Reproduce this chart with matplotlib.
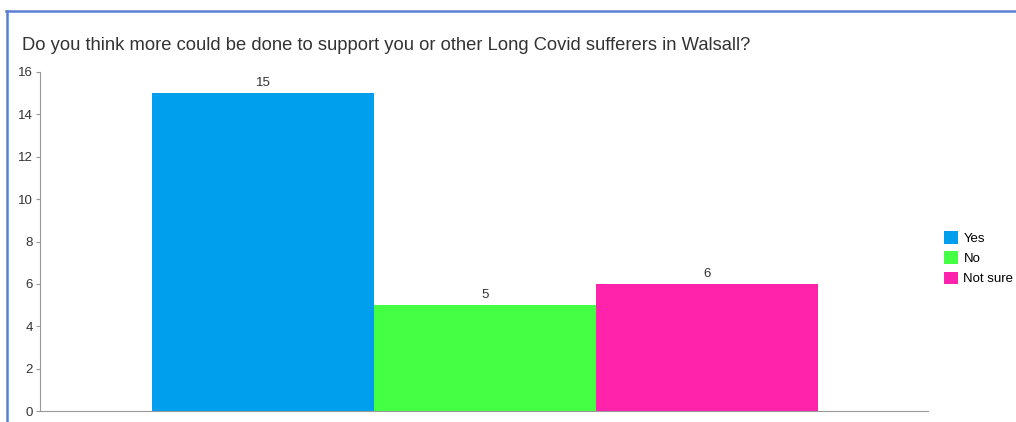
import matplotlib.pyplot as plt
from matplotlib.lines import Line2D
from matplotlib.patches import Patch

title = 'Do you think more could be done to support you or other Long Covid sufferers in Walsall?'
categories = ['Yes', 'No', 'Not sure']
counts = [15, 5, 6]
colors = ['#009FEE', '#44FF44', '#FF22AA']

W, H = 1016, 422
fig = plt.figure(figsize=(W / 100, H / 100), dpi=100)
plt.rcParams['font.family'] = ['Liberation Sans', 'DejaVu Sans']

# panel border (top and left edges)
fig.add_artist(Line2D([6 / W, 1], [1 - 11 / H, 1 - 11 / H], color='#5B80D2', lw=1.8))
fig.add_artist(Line2D([7 / W, 7 / W], [0, 1 - 11 / H], color='#5B80D2', lw=1.8))

fig.text(22 / W, 1 - 45 / H, title, fontsize=13.2, color='#333333', va='center', ha='left')

ax = fig.add_axes([40 / W, 11 / H, 888 / W, 339 / H])
x = list(range(len(categories)))
bars = ax.bar(x, counts, width=1.0, color=colors)
for xi, v in zip(x, counts):
    ax.text(xi, v + 0.2, str(v), ha='center', va='bottom', fontsize=9.5, color='#333333')

ax.set_xlim(-1.005, 2.995)
ax.set_ylim(0, 16)
ax.set_yticks(range(0, 17, 2))
ax.set_xticks([])
for s in ['top', 'right']:
    ax.spines[s].set_visible(False)
ax.spines['left'].set_color('#999999')
ax.spines['bottom'].set_color('#999999')
ax.tick_params(axis='y', length=3, color='#999999', labelsize=9.5, labelcolor='#333333', pad=2)

handles = [Patch(facecolor=c, edgecolor='none') for c in colors]
fig.legend(handles, categories, loc='upper left', bbox_to_anchor=(939 / W, 1 - 226 / H),
           frameon=False, fontsize=9.5, handlelength=1.05, handleheight=1.05,
           handletextpad=0.4, labelspacing=0.5, borderaxespad=0)

fig.savefig('out.png', dpi=100)
